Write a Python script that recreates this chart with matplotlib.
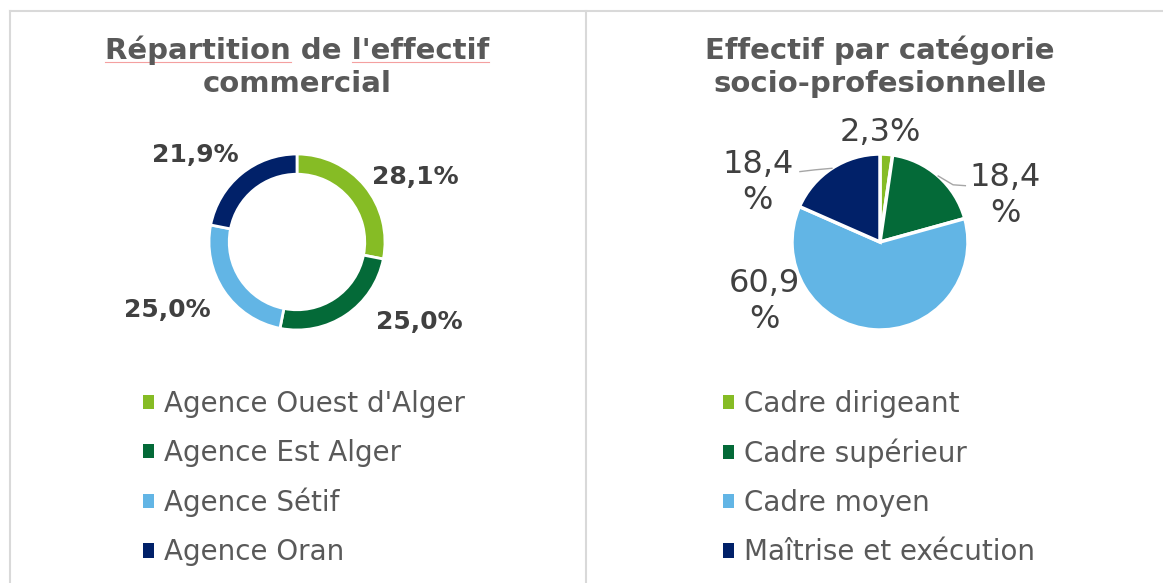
import numpy as np
import matplotlib.pyplot as plt
from matplotlib.patches import Patch
from matplotlib.lines import Line2D
from matplotlib.font_manager import FontProperties

# données
agences = ["Agence Ouest d'Alger", "Agence Est Alger", "Agence Sétif", "Agence Oran"]
part_agences = [28.1, 25.0, 25.0, 21.9]
categories = ["Cadre dirigeant", "Cadre supérieur", "Cadre moyen", "Maîtrise et exécution"]
part_categories = [2.3, 18.4, 60.9, 18.4]
couleurs = ['#86BC25', '#046A38', '#62B5E5', '#012169']

W, H = 1163, 583
gris_titre = '#595959'
gris_label = '#404040'
gris_bord = '#D9D9D9'

fig = plt.figure(figsize=(W / 100, H / 100), dpi=100)


def axes_px(cx, cy, r):
    return fig.add_axes([(cx - r) / W, 1 - (cy + r) / H, 2 * r / W, 2 * r / H])


def fmt(v):
    return f"{v:.1f}%".replace('.', ',')


# cadre
fig.add_artist(Line2D([10 / W, 1], [1 - 11 / H, 1 - 11 / H], color=gris_bord, lw=1.5))
fig.add_artist(Line2D([10 / W, 10 / W], [0, 1 - 11 / H], color=gris_bord, lw=1.5))
fig.add_artist(Line2D([586 / W, 586 / W], [0, 1 - 11 / H], color=gris_bord, lw=1.5))

# 1 - anneau effectif commercial
ax1 = axes_px(297, 242, 88)
ax1.pie(part_agences, colors=couleurs, startangle=90, counterclock=False,
        wedgeprops=dict(width=0.23, edgecolor='white', linewidth=2))
ax1.set_xlim(-1, 1)
ax1.set_ylim(-1, 1)
pos1 = [(1.35, 0.74), (1.39, -0.91), (-1.47, -0.77), (-1.16, 0.99)]
for v, (x, y) in zip(part_agences, pos1):
    ax1.text(x, y, fmt(v), ha='center', va='center', fontsize=18,
             fontweight='bold', color=gris_label)

# 2 - camembert catégories
ax2 = axes_px(880, 242, 88)
ax2.pie(part_categories, colors=couleurs, startangle=90, counterclock=False,
        wedgeprops=dict(edgecolor='white', linewidth=2.5))
ax2.set_xlim(-1, 1)
ax2.set_ylim(-1, 1)
pos2 = [(0, 1.24), (1.42, 0.53), (-1.31, -0.68), (-1.39, 0.68)]
retour = [False, True, True, True]
for v, (x, y), r in zip(part_categories, pos2, retour):
    s = fmt(v)
    if r:
        s = s[:-1] + '\n%'
    ax2.text(x, y, s, ha='center', va='center', fontsize=23, color=gris_label,
             linespacing=1.2)

# traits de rappel
cum = np.cumsum([0] + part_categories)
milieux = 90 - (cum[:-1] + np.array(part_categories) / 2) * 3.6
rappels = {1: [(0.83, 0.65), (0.97, 0.64)], 3: [(-0.74, 0.82), (-0.91, 0.80)]}
for i, pts in rappels.items():
    a = np.radians(milieux[i])
    xs = [np.cos(a)] + [p[0] for p in pts]
    ys = [np.sin(a)] + [p[1] for p in pts]
    ax2.plot(xs, ys, color='#A6A6A6', lw=1, clip_on=False)

# titres
fig.text(297 / W, 1 - 67 / H, "Répartition de l'effectif\ncommercial",
         ha='center', va='center', fontsize=21, fontweight='bold',
         color=gris_titre, linespacing=1.25)
fig.text(880 / W, 1 - 67 / H, "Effectif par catégorie\nsocio-profesionnelle",
         ha='center', va='center', fontsize=21, fontweight='bold',
         color=gris_titre, linespacing=1.25)

# soulignements du correcteur
fig.canvas.draw()
rend = fig.canvas.get_renderer()
fp = FontProperties(size=21, weight='bold')


def largeur(s):
    return rend.get_text_width_height_descent(s, fp, ismath=False)[0]


ligne1 = "Répartition de l'effectif"
gauche = 297 - largeur(ligne1) / 2
droite = 297 + largeur(ligne1) / 2
for debut, fin in [(gauche, gauche + largeur("Répartition")),
                   (droite - largeur("l'effectif"), droite)]:
    fig.add_artist(Line2D([debut / W, fin / W], [1 - 62 / H, 1 - 62 / H],
                          color='#F4A0A0', lw=0.8))

# légendes
for noms, x0 in [(agences, 143), (categories, 723)]:
    poignees = [Patch(facecolor=c, edgecolor='none') for c in couleurs]
    fig.legend(poignees, noms, loc='center left', bbox_to_anchor=(x0 / W, 1 - 478 / H),
               frameon=False, fontsize=20, handlelength=0.4, handleheight=0.4,
               handletextpad=0.36, labelspacing=0.76, borderpad=0, borderaxespad=0,
               labelcolor=gris_titre)

fig.savefig('out.png', dpi=100)
